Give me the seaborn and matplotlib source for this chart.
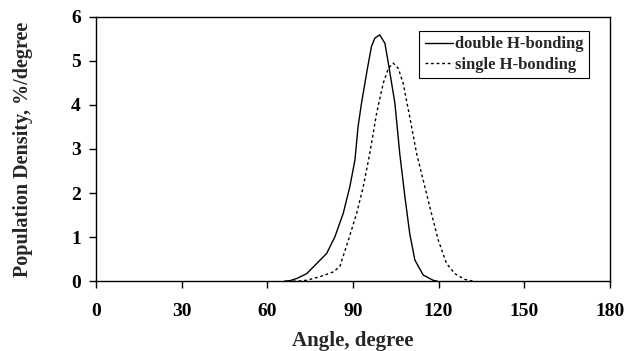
import seaborn as sb
import matplotlib
matplotlib.use("Agg")
import matplotlib.pyplot as plt
import pandas as pd

# angulo (graus) e densidade (%/grau)
angulo_duplo = [66, 67.9, 70.3, 73.8, 77.3, 80.8, 83.7, 86.6, 88.9, 90.7, 91.8, 93.0, 95.0,
                96.5, 97.7, 99.4, 101.2, 102.4, 104.7, 106.4, 108.2, 109.9, 111.7, 114.6,
                118.1, 119.5]
dens_duplo = [0.0, 0.01, 0.06, 0.17, 0.40, 0.63, 1.01, 1.54, 2.14, 2.75, 3.51, 4.04, 4.80,
              5.33, 5.52, 5.59, 5.40, 4.95, 4.04, 2.90, 1.92, 1.08, 0.48, 0.14, 0.02, 0.0]

angulo_simples = [69, 70.3, 73.8, 78.4, 83.1, 85.4, 88.4, 91.3, 93.6, 95.9, 98.3, 100.6,
                  102.4, 104.1, 105.9, 107.6, 109.9, 112.3, 115.2, 117.5, 119.9, 122.8,
                  125.7, 129.2, 132]
dens_simples = [0.0, 0.0, 0.02, 0.10, 0.21, 0.33, 0.93, 1.54, 2.14, 2.90, 3.81, 4.49, 4.83,
                4.95, 4.83, 4.49, 3.73, 2.90, 2.14, 1.54, 0.93, 0.40, 0.17, 0.04, 0.0]

x_ticks = [0, 30, 60, 90, 120, 150, 180]
y_ticks = [0, 1, 2, 3, 4, 5, 6]

df = pd.concat([
    pd.DataFrame({"Angulo": angulo_duplo, "Densidade": dens_duplo, "Tipo": "double H-bonding"}),
    pd.DataFrame({"Angulo": angulo_simples, "Densidade": dens_simples, "Tipo": "single H-bonding"}),
], ignore_index=True)

sb.set_style("ticks")
plt.rcParams["font.family"] = ["Liberation Serif", "DejaVu Serif"]
plt.rcParams["font.weight"] = "bold"

fig = plt.figure(figsize=(6.28, 3.51), dpi=100)
ax = fig.add_axes([0.153, 0.199, 0.818, 0.753])

sb.lineplot(data=df, x="Angulo", y="Densidade", style="Tipo",
            dashes=["", (2, 2)], color="black", linewidth=1.0, ax=ax)

ax.set_xlim(0, 180)
ax.set_ylim(0, 6)
ax.set_xticks(x_ticks)
ax.set_yticks(y_ticks)
ax.tick_params(direction="out", length=5, width=1, colors="black", labelsize=14)
ax.tick_params(axis="x", pad=11)
ax.tick_params(axis="y", pad=6)
for lab in ax.get_xticklabels() + ax.get_yticklabels():
    lab.set_fontweight("bold")
for sp in ax.spines.values():
    sp.set_visible(True)
    sp.set_linewidth(1.0)
    sp.set_color("black")

ax.set_xlabel("Angle, degree", fontsize=15, fontweight="bold", labelpad=8)
ax.set_ylabel("Population Density, %/degree", fontsize=14.5, fontweight="bold", labelpad=27)

leg = ax.legend(loc="upper right", bbox_to_anchor=(0.96, 0.948), borderaxespad=0,
                fancybox=False, edgecolor="black", framealpha=1, fontsize=12,
                handlelength=1.7, handletextpad=0.1, borderpad=0.35, labelspacing=0.25)
leg.get_frame().set_linewidth(0.8)
for t in leg.get_texts():
    t.set_fontweight("bold")

fig.savefig("out.png", dpi=100)
